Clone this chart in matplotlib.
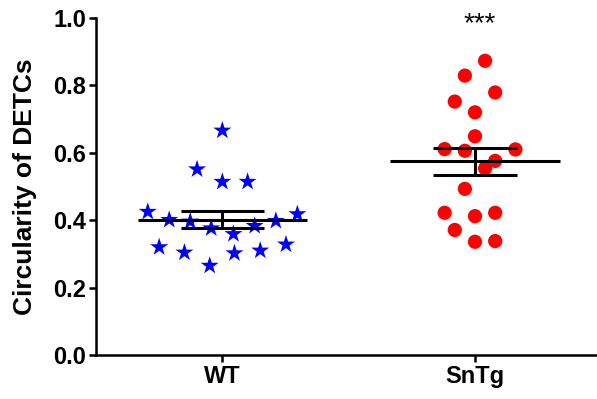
import numpy as np
import matplotlib
matplotlib.use("Agg")
import matplotlib.pyplot as plt

plt.rcParams['font.family'] = ['Liberation Sans', 'DejaVu Sans']

groups = ["WT", "SnTg"]

# values
wt_vals = [0.666, 0.551, 0.514, 0.514, 0.425, 0.418, 0.401, 0.396, 0.398,
           0.376, 0.383, 0.359, 0.320, 0.304, 0.328, 0.302, 0.310, 0.265]
wt_jitter = [0, -0.1, 0, 0.1, -0.295, 0.297, -0.21, -0.127, 0.212,
             -0.044, 0.128, 0.044, -0.25, -0.15, 0.252, 0.048, 0.15, -0.05]

sn_vals = [0.873, 0.829, 0.779, 0.752, 0.720, 0.649, 0.611, 0.606, 0.610,
           0.576, 0.554, 0.493, 0.422, 0.412, 0.422, 0.371, 0.336, 0.338]
sn_jitter = [0.04, -0.04, 0.08, -0.08, 0, 0, -0.12, -0.04, 0.16,
             0.08, 0.04, -0.04, -0.12, 0, 0.08, -0.08, 0, 0.08]

fig = plt.figure(figsize=(5.97, 3.99), dpi=100)
ax = fig.add_axes([0.1608, 0.1103, 0.8392, 0.8446])

ax.scatter(np.array(wt_jitter) + 0, wt_vals, marker='*', s=185, color='blue',
           edgecolors='none', zorder=2)
ax.scatter(np.array(sn_jitter) + 1, sn_vals, marker='o', s=105, color='red',
           edgecolors='none', zorder=2)

for i, vals in enumerate([wt_vals, sn_vals]):
    m = np.mean(vals)
    sem = np.std(vals, ddof=1) / np.sqrt(len(vals))
    ax.hlines(m, i - 0.335, i + 0.335, color='black', lw=2.2, zorder=3)
    ax.hlines([m - sem, m + sem], i - 0.165, i + 0.165, color='black', lw=2.2, zorder=3)
    ax.vlines(i, m - sem, m + sem, color='black', lw=2.2, zorder=3)

ax.text(1.02, 0.982, "***", ha='center', va='center', fontsize=20, clip_on=False)

ax.set_xlim(-0.5, 1.483)
ax.set_ylim(0, 1.0)
ax.set_xticks([0, 1])
ax.set_xticklabels(groups, fontsize=17, fontweight='bold')
ax.set_yticks(np.arange(0, 1.01, 0.2))
ax.set_yticklabels(["%.1f" % v for v in np.arange(0, 1.01, 0.2)], fontsize=17, fontweight='bold')
ax.set_ylabel("Circularity of DETCs", fontsize=19, fontweight='bold', labelpad=12)

for s in ['top', 'right']:
    ax.spines[s].set_visible(False)
for s in ['left', 'bottom']:
    ax.spines[s].set_linewidth(1.8)
ax.tick_params(width=1.8, length=5, pad=2)
ax.patch.set_visible(False)

fig.savefig("out.png", dpi=100)
